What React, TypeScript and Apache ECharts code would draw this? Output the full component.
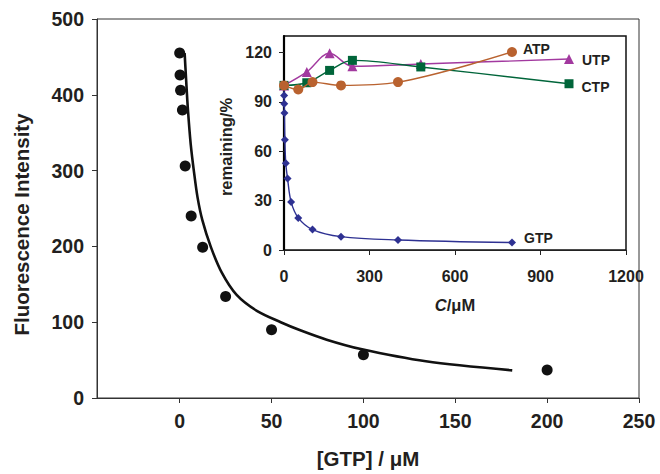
import React, { useEffect, useRef } from "react";
import * as echarts from "echarts";

// Main chart: fluorescence intensity vs [GTP]
const gtpConc = [0, 0.2, 0.5, 1.5, 3, 6.25, 12.5, 25, 50, 100, 200];
const fluorescence = [455, 426, 406, 380, 306, 240, 199, 134, 90, 57, 37];
// Fitted curve
const fitConc = [2.7, 3.5, 4.5, 6, 7.8, 9.7, 12.3, 17, 23, 31, 42, 55, 66, 80, 98, 134, 181];
const fitIntensity = [455, 420, 380, 335, 298, 265, 235, 199, 165, 136, 115, 100, 89, 77, 65, 48.5, 36.5];
const mainXTicks = [0, 50, 100, 150, 200, 250];

// Inset: remaining % vs concentration
const gtpX = [0, 0.39, 0.78, 1.56, 3.125, 6.25, 12.5, 25, 50, 100, 200, 400, 800];
const gtpY = [100, 93.9, 88.9, 83.2, 67, 52.7, 43.4, 29.2, 19.5, 12.4, 8.1, 6.1, 4.5];
const atpX = [0, 50, 100, 200, 400, 800];
const atpY = [100, 97.5, 102, 100, 102, 120.3];
const utpX = [0, 80, 160, 240, 480, 1000];
const utpY = [100, 108.2, 119.5, 111.6, 113, 116];
const ctpX = [0, 80, 160, 240, 480, 1000];
const ctpY = [100, 101.6, 109.1, 115.2, 111.2, 101];
const insetYTicks = [0, 30, 60, 90, 120];

const FONT = "'Liberation Sans', Arial, Helvetica, sans-serif";
const TXT = "#231f20";

function pairs(xs: number[], ys: number[]) {
  return xs.map((x, i) => [x, ys[i]]);
}

function withEndLabel(xs: number[], ys: number[], name: string, offset: number[]) {
  return xs.map((x, i) => {
    if (i === xs.length - 1) {
      return {
        value: [x, ys[i]],
        label: {
          show: true,
          position: "right",
          distance: 6,
          offset,
          formatter: name,
          fontFamily: FONT,
          fontWeight: "bold",
          fontSize: 14,
          color: TXT,
        },
      };
    }
    return { value: [x, ys[i]] };
  });
}

export default function App() {
  const ref = useRef<HTMLDivElement>(null);
  useEffect(() => {
    if (!ref.current) return;
    const chart = echarts.init(ref.current, null, { renderer: "svg" });
    const tickLabel = (size: number) => ({
      fontFamily: FONT,
      fontWeight: "bold" as const,
      fontSize: size,
      color: TXT,
    });
    chart.setOption({
      animation: false,
      backgroundColor: "#fff",
      grid: [
        {
          left: 97,
          top: 19,
          width: 542,
          height: 385,
          show: true,
          borderColor: "#333",
          borderWidth: 1,
          containLabel: false,
        },
        {
          left: 284,
          top: 36,
          width: 342,
          height: 214,
          show: true,
          borderColor: "#111",
          borderWidth: 1.5,
          containLabel: false,
        },
      ],
      xAxis: [
        {
          type: "value",
          gridIndex: 0,
          min: -45,
          max: 250,
          name: "[GTP] / μM",
          nameLocation: "middle",
          nameGap: 50,
          nameTextStyle: { ...tickLabel(20.5) },
          axisLine: { show: true, onZero: false, lineStyle: { color: "#333", width: 1 } },
          axisTick: { show: true, length: 5, customValues: mainXTicks, lineStyle: { color: "#333" } },
          axisLabel: { ...tickLabel(19.5), margin: 13, customValues: mainXTicks },
          splitLine: { show: false },
        },
        {
          type: "value",
          gridIndex: 1,
          min: 0,
          max: 1200,
          interval: 300,
          name: "{i|C}/μM",
          nameLocation: "middle",
          nameGap: 46,
          nameTextStyle: {
            ...tickLabel(16.5),
            rich: {
              i: { fontFamily: FONT, fontWeight: "bold", fontStyle: "italic", fontSize: 16.5, color: TXT },
            },
          },
          axisLine: { show: true, onZero: false, lineStyle: { color: "#222", width: 1.2 } },
          axisTick: { show: true, length: 5, lineStyle: { color: "#222" } },
          axisLabel: { ...tickLabel(16), margin: 18, formatter: (v: number) => String(v) },
          splitLine: { show: false },
        },
      ],
      yAxis: [
        {
          type: "value",
          gridIndex: 0,
          min: 0,
          max: 500,
          interval: 100,
          name: "Fluorescence Intensity",
          nameLocation: "middle",
          nameGap: 65,
          nameTextStyle: { ...tickLabel(20.5), padding: [0, 32, 0, 0] },
          axisLine: { show: true, onZero: false, lineStyle: { color: "#333", width: 1 } },
          axisTick: { show: true, length: 5, lineStyle: { color: "#333" } },
          axisLabel: { ...tickLabel(19.5), margin: 13 },
          splitLine: { show: false },
        },
        {
          type: "value",
          gridIndex: 1,
          min: 0,
          max: 130,
          name: "remaining/%",
          nameLocation: "middle",
          nameGap: 48,
          nameTextStyle: { ...tickLabel(16.5), padding: [0, 8, 0, 0] },
          axisLine: { show: true, onZero: false, lineStyle: { color: "#000", width: 2.2 } },
          axisTick: { show: true, length: 5, customValues: insetYTicks, lineStyle: { color: "#222" } },
          axisLabel: { ...tickLabel(16), margin: 12, customValues: insetYTicks },
          splitLine: { show: false },
        },
      ],
      series: [
        {
          name: "fit",
          type: "line",
          xAxisIndex: 0,
          yAxisIndex: 0,
          data: pairs(fitConc, fitIntensity),
          smooth: 0.3,
          showSymbol: false,
          lineStyle: { color: "#111", width: 2.6 },
          z: 2,
        },
        {
          name: "data",
          type: "scatter",
          xAxisIndex: 0,
          yAxisIndex: 0,
          data: pairs(gtpConc, fluorescence),
          symbol: "circle",
          symbolSize: 11,
          itemStyle: { color: "#111", opacity: 1 },
          z: 3,
        },
        {
          name: "GTP",
          type: "line",
          xAxisIndex: 1,
          yAxisIndex: 1,
          data: withEndLabel(gtpX, gtpY, "GTP", [2, -5]),
          smooth: 0.35,
          symbol: "diamond",
          symbolSize: 8,
          lineStyle: { color: "#2e3192", width: 1.4 },
          itemStyle: { color: "#2e3192" },
          z: 4,
        },
        {
          name: "UTP",
          type: "line",
          xAxisIndex: 1,
          yAxisIndex: 1,
          data: withEndLabel(utpX, utpY, "UTP", [2, 1]),
          smooth: 0.35,
          symbol: "triangle",
          symbolSize: 10,
          lineStyle: { color: "#a2399f", width: 1.4 },
          itemStyle: { color: "#a2399f" },
          z: 5,
        },
        {
          name: "CTP",
          type: "line",
          xAxisIndex: 1,
          yAxisIndex: 1,
          data: withEndLabel(ctpX, ctpY, "CTP", [2, 3]),
          smooth: 0.35,
          symbol: "rect",
          symbolSize: 9,
          lineStyle: { color: "#00653a", width: 1.4 },
          itemStyle: { color: "#00653a" },
          z: 6,
        },
        {
          name: "ATP",
          type: "line",
          xAxisIndex: 1,
          yAxisIndex: 1,
          data: withEndLabel(atpX, atpY, "ATP", [0, -3]),
          smooth: 0.35,
          symbol: "circle",
          symbolSize: 10,
          lineStyle: { color: "#b9622f", width: 1.4 },
          itemStyle: { color: "#b9622f" },
          z: 7,
        },
      ],
    });
    return () => chart.dispose();
  }, []);
  return (
    <div
      ref={ref}
      style={{ position: "fixed", left: 0, top: 0, width: 660, height: 474, background: "#fff" }}
    />
  );
}
